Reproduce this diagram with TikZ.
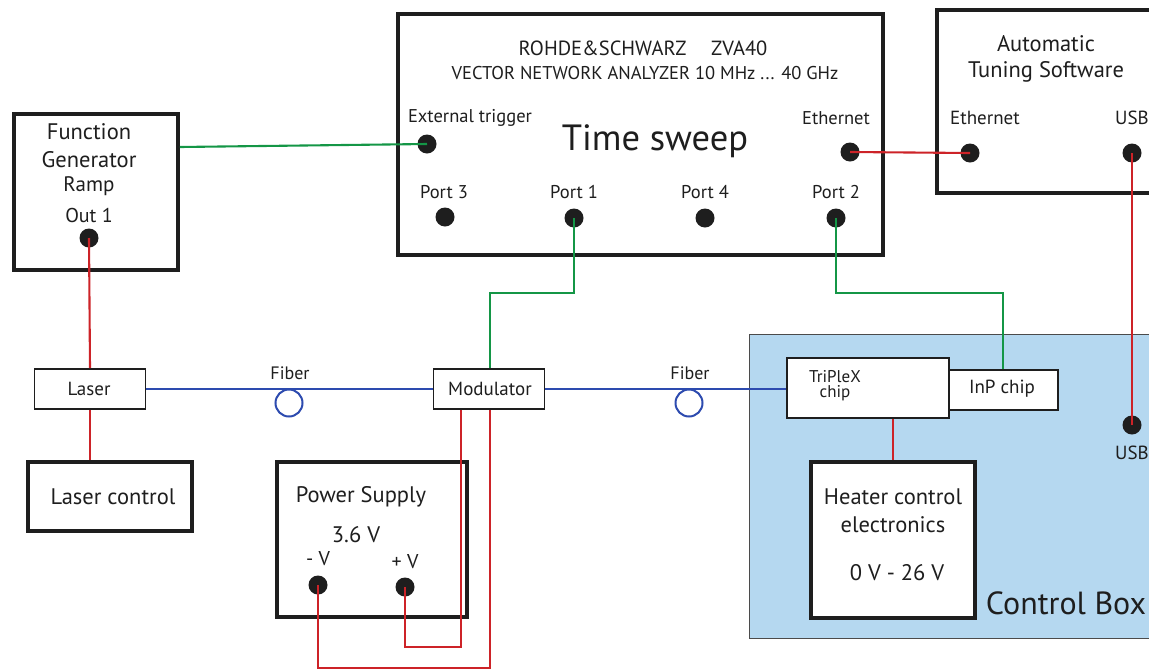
\documentclass[tikz,border=0pt]{standalone}
\usepackage{fontspec}
\setmainfont{PT Sans}
\definecolor{cgreen}{RGB}{20,150,70}
\definecolor{cred}{RGB}{205,35,40}
\definecolor{cblue}{RGB}{45,75,175}
\definecolor{cboxfill}{RGB}{181,216,240}
\definecolor{cdark}{RGB}{30,30,30}
\begin{document}
\begin{tikzpicture}[x=1pt,y=-1pt,
  thickbox/.style={draw=cdark,line width=3.8pt,fill=white},
  thinbox/.style={draw=cdark,line width=1.8pt,fill=white,inner sep=0pt},
  dot/.style={circle,fill=cdark,inner sep=0pt,minimum size=19pt},
  lbl/.style={inner sep=0pt,text=cdark,font=\fontsize{18.5}{21}\selectfont},
  big/.style={inner sep=0pt,text=cdark,font=\fontsize{22.5}{26}\selectfont},
  gw/.style={draw=cgreen,line width=2.1pt},
  rw/.style={draw=cred,line width=2.1pt},
  bw/.style={draw=cblue,line width=2.1pt},
  ring/.style={circle,draw=cblue,line width=2pt,minimum size=27pt,inner sep=0pt}]
\useasboundingbox (0,0) rectangle (1149,670);
\clip (0,0) rectangle (1149,670);
% control box
\node[draw=cdark!80,line width=1.4pt,fill=cboxfill,minimum width=420pt,minimum height=304pt,anchor=north west,inner sep=0pt] (cbox) at (749,334) {};
\node[inner sep=0pt,text=cdark,font=\fontsize{32}{36}\selectfont] (cblbl) at (1066,603) {Control Box};
% function generator
\node[thickbox,minimum width=164pt,minimum height=156pt,anchor=north west] (fg) at (12,112) {};
\node[big] (fg1) at (89,132) {Function};
\node[big] (fg2) at (89,160) {Generator};
\node[big,font=\fontsize{21}{24}\selectfont] (fg3) at (89,186) {Ramp};
\node[lbl,font=\fontsize{20}{23}\selectfont] (fg4) at (89,215) {Out 1};
\node[dot] (out1) at (89,238) {};
% VNA
\node[thickbox,minimum width=485pt,minimum height=241pt,anchor=north west] (vna) at (396,12) {};
\node[inner sep=0pt,text=cdark,font=\fontsize{20.5}{24}\selectfont] (vna1) at (643,48) {ROHDE\&SCHWARZ\hspace{1.2em}ZVA40};
\node[lbl] (vna2) at (645,73) {VECTOR NETWORK ANALYZER 10 MHz ... 40 GHz};
\node[lbl] (extl) at (470,118) {External trigger};
\node[dot] (ext) at (427,144) {};
\node[inner sep=0pt,text=cdark,font=\fontsize{36.5}{40}\selectfont] (ts) at (655,141) {Time sweep};
\node[lbl] (ethl) at (836,118) {Ethernet};
\node[dot] (eth) at (850,152) {};
\node[lbl] (p3l) at (444,192) {Port 3};
\node[dot] (p3) at (445,217) {};
\node[lbl] (p1l) at (574,192) {Port 1};
\node[dot] (p1) at (574,218) {};
\node[lbl] (p4l) at (705,192) {Port 4};
\node[dot] (p4) at (705,218) {};
\node[lbl] (p2l) at (836,192) {Port 2};
\node[dot] (p2) at (836,218) {};
% automatic tuning software
\node[thickbox,minimum width=240pt,minimum height=183pt,anchor=north west] (ats) at (935,8) {};
\node[big] (ats1) at (1046,44) {Automatic};
\node[big] (ats2) at (1046,72) {Tuning Software};
\node[lbl,font=\fontsize{19}{22}\selectfont] (aethl) at (985,118) {Ethernet};
\node[dot] (aeth) at (970,153) {};
\node[lbl,font=\fontsize{19}{22}\selectfont] (ausbl) at (1132,118) {USB};
\node[dot] (ausb) at (1132,153) {};
% control box USB
\node[dot] (cusb) at (1132,425) {};
\node[lbl,font=\fontsize{19}{22}\selectfont] (cusbl) at (1132,453) {USB};
% chips
\node[thinbox,minimum width=162pt,minimum height=60pt,anchor=north west] (tri) at (786,357) {};
\node[inner sep=0pt,text=cdark,align=center,font=\fontsize{17}{15}\selectfont] (tril) at (835,386) {TriPleX\\chip};
\node[thinbox,minimum width=109pt,minimum height=40pt,anchor=north west] (inp) at (948,369) {};
\node[lbl,font=\fontsize{19}{22}\selectfont] (inpl) at (1002,389) {InP chip};
% heater
\node[thickbox,minimum width=164pt,minimum height=156pt,anchor=north west] (heat) at (809,460) {};
\node[big] (h1) at (893,497) {Heater control};
\node[big] (h2) at (893,525) {electronics};
\node[big] (h3) at (897,573) {0 V - 26 V};
% laser & modulator
\node[thinbox,minimum width=111pt,minimum height=40pt] (laser) at (90,389) {};
\node[lbl,font=\fontsize{19}{22}\selectfont] (laserl) at (89,389) {Laser};
\node[thinbox,minimum width=111pt,minimum height=40pt] (mod) at (489,389) {};
\node[lbl,font=\fontsize{19}{22}\selectfont] (modl) at (490,389) {Modulator};
% laser control
\node[thickbox,minimum width=164pt,minimum height=69pt,anchor=north west] (lc) at (26,460) {};
\node[big] (lcl) at (113,497) {Laser control};
% power supply
\node[thickbox,minimum width=190pt,minimum height=155pt,anchor=north west] (ps) at (275,460) {};
\node[big] (psl) at (361,497) {Power Supply};
\node[big] (psv) at (356,535) {3.6 V};
\node[lbl,font=\fontsize{20}{23}\selectfont] (mvl) at (318,559) {- V};
\node[lbl,font=\fontsize{20}{23}\selectfont] (pvl) at (405,562) {+ V};
\node[dot] (mv) at (318,585) {};
\node[dot] (pv) at (405,587) {};
% fiber
\node[lbl,font=\fontsize{18}{21}\selectfont] (f1l) at (290,373) {Fiber};
\node[ring] (f1) at (289,403) {};
\node[lbl,font=\fontsize{18}{21}\selectfont] (f2l) at (690,373) {Fiber};
\node[ring] (f2) at (689,403) {};
% connectors
\draw[gw] (fg.east |- 0,147) -- (ext.center);
\draw[rw] (eth.center) -- (aeth.center);
\draw[rw] (ausb.center) -- (cusb.center);
\draw[gw] (p1.center) -- (574,293) -- (490,293) -- (mod.north -| 490,0);
\draw[gw] (p2.center) -- (836,293) -- (1003,293) -- (inp.north -| 1003,0);
\draw[rw] (out1.center) -- (laser.north);
\draw[rw] (laser.south) -- (lc.north -| laser.south);
\draw[bw] (laser.east) -- (mod.west);
\draw[bw] (mod.east) -- (tri.west |- mod.east);
\draw[rw] (tri.south -| 893,0) -- (heat.north -| 893,0);
\draw[rw] (pv.center) -- (405,647) -- (461,647) -- (mod.south -| 461,0);
\draw[rw] (mv.center) -- (318,668) -- (490,668) -- (mod.south -| 490,0);
\end{tikzpicture}
\end{document}
